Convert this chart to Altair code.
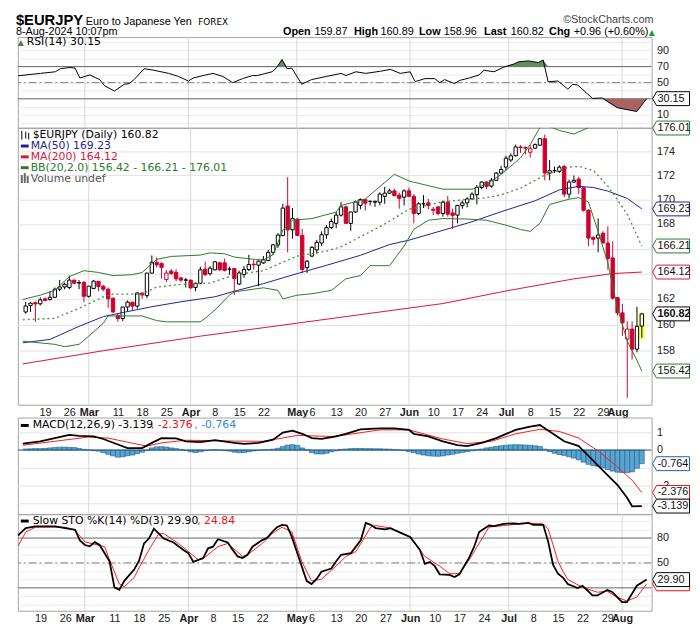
import altair as alt
import pandas as pd
import numpy as np

# ---------------- data ----------------
FIRST_DAY = "2024-02-13"
OPEN = [160.97, 161.48, 161.70, 161.61, 162.00, 161.95, 162.12, 162.76, 162.94, 162.90,
        163.48, 163.25, 163.30, 162.20, 162.82, 163.38, 163.00, 162.76, 162.05, 160.70,
        160.46, 161.36, 161.74, 161.43, 162.46, 162.25, 164.04, 164.90, 164.80, 163.53,
        164.20, 164.10, 163.66, 163.48, 163.48, 162.90, 163.23, 164.35, 163.99, 164.30,
        164.86, 164.86, 164.35, 164.40, 163.17, 163.92, 164.32, 164.75, 164.67, 164.85,
        165.04, 165.70, 166.30, 167.07, 169.47, 167.52, 168.40, 167.07, 164.48, 165.40,
        165.90, 166.45, 167.12, 167.70, 168.05, 168.72, 169.40, 168.05, 168.98, 169.52,
        170.00, 169.85, 169.78, 169.78, 170.27, 170.53, 170.72, 170.37, 170.20, 170.72,
        170.27, 168.85, 169.65, 169.73, 169.20, 169.40, 168.85, 169.78, 168.90, 168.72,
        169.50, 169.73, 170.05, 170.40, 171.00, 171.45, 171.12, 171.60, 172.20, 172.70,
        173.30, 173.65, 174.40, 174.35, 173.95, 174.30, 174.55, 175.10, 172.20, 172.40,
        172.35, 172.75, 170.45, 171.45, 171.70, 170.98, 169.12, 166.90, 166.85, 167.25,
        166.45, 165.25, 162.10, 160.90, 158.87, 159.64, 158.09, 159.87]
HIGH = [161.74, 161.74, 161.79, 162.12, 162.10, 162.60, 162.89, 163.50, 163.28, 163.84,
        163.50, 163.48, 163.40, 163.00, 163.48, 163.40, 163.10, 162.90, 162.10, 160.85,
        161.36, 161.87, 161.74, 162.50, 162.50, 164.04, 165.45, 165.30, 164.90, 164.30,
        164.35, 164.35, 163.66, 163.66, 163.50, 163.28, 164.55, 164.94, 164.60, 165.00,
        164.94, 165.20, 164.55, 164.45, 164.24, 164.60, 165.50, 165.10, 165.04, 165.40,
        165.90, 166.37, 167.25, 169.65, 171.86, 169.30, 168.45, 167.60, 165.07, 166.20,
        166.70, 167.40, 167.90, 168.45, 168.99, 169.80, 169.52, 169.00, 169.92, 170.10,
        170.05, 169.92, 169.90, 170.60, 171.05, 170.90, 170.90, 170.58, 170.85, 170.98,
        170.45, 169.78, 170.37, 170.05, 169.39, 169.45, 169.92, 170.30, 169.25, 169.57,
        169.92, 170.20, 170.60, 171.20, 171.53, 171.53, 171.80, 172.30, 172.80, 173.65,
        173.85, 174.60, 174.55, 174.45, 174.60, 174.70, 175.15, 175.45, 173.30, 172.75,
        172.85, 172.90, 171.65, 172.00, 171.90, 170.98, 169.20, 167.00, 168.45, 167.40,
        167.80, 166.60, 162.15, 161.60, 160.25, 160.25, 161.38, 160.89]
LOW = [160.84, 160.97, 160.20, 161.48, 161.80, 161.87, 162.05, 162.60, 162.76, 162.76,
       163.15, 162.76, 161.74, 162.10, 162.76, 162.60, 162.60, 161.30, 160.90, 160.20,
       160.26, 161.00, 161.10, 161.23, 162.00, 162.05, 164.00, 164.50, 163.60, 163.33,
       163.90, 163.40, 163.33, 162.90, 162.76, 162.60, 163.15, 163.84, 163.84, 164.25,
       164.20, 164.17, 163.90, 162.30, 163.10, 163.66, 164.20, 164.30, 162.99, 164.77,
       164.99, 165.50, 166.05, 166.99, 165.70, 166.80, 167.00, 164.05, 164.05, 165.30,
       165.60, 166.20, 166.80, 167.60, 167.65, 168.60, 168.05, 167.44, 168.90, 169.20,
       169.10, 169.52, 169.40, 169.52, 169.65, 170.45, 170.27, 169.25, 169.52, 170.20,
       168.05, 168.72, 169.30, 169.20, 168.72, 168.70, 168.60, 168.60, 167.60, 168.05,
       169.25, 169.35, 170.00, 169.60, 170.85, 170.85, 170.98, 171.53, 172.15, 172.45,
       173.12, 173.60, 173.90, 173.75, 173.50, 174.25, 174.50, 171.60, 171.60, 172.20,
       172.20, 170.20, 170.10, 171.40, 170.45, 169.00, 166.20, 166.30, 165.70, 166.45,
       164.30, 161.95, 160.70, 159.10, 154.40, 157.30, 157.85, 158.96]
CLOSE = [161.43, 161.66, 161.60, 161.92, 161.87, 162.12, 162.76, 162.94, 163.15, 163.48,
         163.23, 163.28, 162.20, 163.00, 163.40, 162.97, 162.76, 162.00, 160.97, 160.46,
         161.36, 161.74, 161.43, 162.46, 162.30, 164.04, 164.90, 164.70, 164.50, 164.04,
         164.00, 163.58, 163.48, 163.49, 162.87, 163.23, 164.30, 163.90, 164.43, 164.94,
         164.30, 164.25, 164.35, 163.60, 164.05, 164.32, 164.72, 164.70, 164.99, 165.12,
         165.70, 166.30, 167.10, 169.30, 167.52, 168.45, 167.07, 164.32, 164.99, 166.10,
         166.50, 167.12, 167.70, 168.20, 168.72, 169.40, 168.05, 168.98, 169.80, 170.00,
         169.70, 169.85, 169.86, 170.45, 170.53, 170.72, 170.32, 170.10, 170.72, 170.27,
         168.85, 169.65, 169.65, 169.52, 169.12, 168.85, 169.78, 168.80, 168.70, 169.52,
         169.73, 170.05, 170.45, 171.00, 171.45, 171.10, 171.60, 172.20, 172.50, 173.45,
         173.65, 174.40, 174.35, 174.30, 174.25, 174.60, 175.10, 172.20, 172.40, 172.40,
         172.70, 170.45, 171.45, 171.60, 170.98, 169.12, 166.85, 166.75, 167.10, 166.45,
         165.20, 162.05, 160.90, 160.12, 159.64, 158.09, 159.86, 160.82]

TICK_IDX = [4, 9, 13, 19, 24, 29, 34, 39, 44, 49, 56, 59, 64, 69, 74, 79, 84, 89, 94, 99,
            104, 109, 114, 119, 122]
TICK_LABELS = ["19", "26", "Mar", "11", "18", "25", "Apr", "8", "15", "22", "May", "6", "13",
               "20", "27", "Jun", "10", "17", "24", "Jul", "8", "15", "22", "29", "Aug"]
MONTH_IDX = [13, 34, 56, 79, 99, 122]

# (trading-day index, value) samples
MA50 = [(-0.6, 158.58), (5, 158.84), (11, 159.85), (16, 160.61), (21, 161.0), (26, 161.38),
        (32, 161.77), (39, 162.16), (43, 162.6), (49, 163.2), (56, 164.0), (62, 164.66),
        (69, 165.46), (75, 166.33), (79, 166.68), (86, 167.48), (92, 168.18), (98, 169.0),
        (105, 169.9), (110, 170.8), (114, 171.1), (117, 171.0), (120, 170.7), (124, 170.1),
        (127, 169.23)]
MA200 = [(-0.6, 156.96), (16, 157.97), (36, 159.09), (56, 160.10), (66, 160.61), (86, 161.63),
         (99, 162.62), (113, 163.58), (121, 164.0), (127, 164.12)]
BB_UP = [(-0.6, 161.95), (3, 162.29), (6, 162.67), (9, 163.76), (12, 164.23), (15, 164.09),
         (18, 163.84), (22, 163.91), (24, 164.09), (27, 165.13), (30, 165.37), (36, 165.48),
         (38, 165.66), (41, 165.58), (43, 165.32), (46, 165.18), (49, 165.08), (51, 165.52),
         (53, 167.5), (55, 168.3), (59, 168.44), (64, 168.97), (65, 169.51), (70, 170.05),
         (76, 172.1), (79, 171.54), (86, 170.86), (92, 170.86), (95, 171.27), (98, 172.09),
         (102, 173.48), (104, 174.6), (106, 176.05), (107, 176.3), (110, 175.8), (113, 175.5),
         (116, 176.05), (118, 177.0), (121, 177.6), (124, 177.3), (127, 176.01)]
BB_MID = [(-0.6, 160.36), (6, 160.48), (11, 161.25), (16, 162.16), (18, 162.37), (24, 162.37),
          (27, 162.93), (32, 163.14), (38, 163.24), (43, 163.9), (49, 164.23), (52, 164.74),
          (56, 165.4), (62, 165.8), (65, 166.15), (70, 167.16), (74, 167.99), (79, 169.2),
          (86, 169.82), (95, 170.16), (98, 170.39), (102, 170.94), (107, 172.03), (112, 172.7),
          (114, 172.76), (117, 172.43), (120, 171.12), (124, 168.8), (127, 166.21)]
BB_LOW = [(-0.6, 158.71), (6, 158.46), (8, 158.28), (11, 158.46), (13, 159.09), (16, 160.1),
          (17, 160.66), (24, 160.66), (27, 160.3), (29, 160.2), (36, 160.2), (37, 160.48),
          (39, 161.12), (42, 162.29), (43, 162.55), (49, 162.87), (52, 162.67), (53, 162.0),
          (56, 162.29), (59, 162.4), (63, 162.67), (66, 163.58), (69, 163.84), (71, 164.63),
          (75, 164.63), (78, 166.21), (80, 167.55), (83, 168.3), (86, 168.44), (91, 168.4),
          (95, 168.3), (99, 167.9), (102, 167.55), (104, 167.4), (106, 168.05), (108, 169.6),
          (112, 170.03), (114, 170.16), (116, 169.8), (118, 167.37), (120, 164.86),
          (122, 161.25), (124, 158.71), (126, 157.23), (127, 156.42)]
RSI = [(-0.6, 58.5), (4, 61.5), (7, 63.5), (8, 67.3), (10, 68.8), (11, 68.0), (12, 55.8),
       (14, 59.6), (16, 53.8), (17, 46.2), (19, 39.6), (21, 48.0), (22, 48.8), (23, 53.8),
       (25, 67.3), (27, 65.4), (30, 61.5), (32, 57.7), (34, 52.0), (35, 55.8), (37, 58.8),
       (39, 61.5), (41, 57.7), (43, 50.0), (45, 55.0), (47, 58.8), (48, 58.8), (51, 63.5),
       (52, 69.2), (53, 78.8), (54, 67.3), (55, 68.0), (57, 48.0), (59, 53.8), (62, 57.7),
       (65, 61.5), (66, 58.8), (68, 63.5), (70, 61.5), (73, 64.2), (75, 66.5), (77, 61.5),
       (79, 63.5), (80, 51.2), (82, 55.0), (84, 55.0), (85, 50.0), (86, 53.8), (88, 48.8),
       (89, 52.7), (91, 55.8), (93, 59.6), (94, 65.4), (96, 63.5), (98, 69.2), (100, 73.0),
       (101, 75.8), (103, 77.0), (105, 75.0), (106, 78.0), (107, 51.2), (109, 52.0),
       (111, 42.0), (112, 48.0), (113, 47.0), (116, 30.5), (118, 31.0), (121, 19.0),
       (123, 16.5), (125, 14.2), (127, 30.15)]
MACD = [(-0.6, 0.36), (3, 0.49), (6, 0.67), (9, 0.85), (11, 0.80), (14, 0.76), (16, 0.62),
        (19, 0.31), (21, 0.11), (24, 0.11), (26, 0.40), (28, 0.67), (31, 0.65), (33, 0.49),
        (36, 0.45), (39, 0.55), (43, 0.40), (45, 0.35), (48, 0.40), (51, 0.58), (53, 0.98),
        (55, 1.09), (57, 0.91), (59, 0.67), (61, 0.62), (64, 0.76), (66, 0.91), (69, 1.16),
        (73, 1.22), (76, 1.22), (79, 1.13), (80, 0.91), (83, 0.76), (86, 0.49), (89, 0.27),
        (91, 0.22), (94, 0.40), (97, 0.67), (101, 1.13), (104, 1.31), (106, 1.40), (108, 1.04),
        (111, 0.49), (114, 0.22), (116, -0.33), (118, -0.87), (119, -1.15), (122, -1.96),
        (124, -2.69), (125, -3.15), (127, -3.139)]
SIGNAL = [(-0.6, 0.27), (6, 0.49), (13, 0.73), (17, 0.67), (21, 0.44), (25, 0.22), (28, 0.40),
          (33, 0.55), (43, 0.50), (49, 0.49), (56, 0.82), (63, 0.76), (66, 0.85), (73, 1.13),
          (79, 1.13), (86, 0.62), (91, 0.36), (96, 0.49), (101, 0.91), (106, 1.16), (110, 1.04),
          (114, 0.67), (118, -0.05), (122, -0.96), (125, -1.69), (127, -2.376)]
HIST = [0.06, 0.07, 0.08, 0.08, 0.09, 0.12, 0.14, 0.16, 0.16, 0.15,
        0.14, 0.09, 0.04, 0.00, -0.03, -0.06, -0.15, -0.24, -0.33, -0.40,
        -0.38, -0.32, -0.28, -0.20, -0.12, -0.02, 0.12, 0.18, 0.19, 0.17,
        0.12, 0.08, 0.04, -0.02, -0.10, -0.14, -0.10, -0.04, 0.00, 0.02,
        0.00, -0.03, -0.06, -0.12, -0.15, -0.14, -0.10, -0.05, -0.02, 0.01,
        0.02, 0.05, 0.10, 0.20, 0.28, 0.30, 0.26, 0.12, 0.02, -0.15,
        -0.22, -0.22, -0.18, -0.10, -0.04, 0.04, 0.06, 0.08, 0.09, 0.09,
        0.08, 0.08, 0.07, 0.07, 0.06, 0.05, 0.02, 0.00, -0.03, -0.08,
        -0.15, -0.22, -0.28, -0.32, -0.34, -0.35, -0.33, -0.28, -0.24, -0.18,
        -0.13, -0.09, -0.04, 0.02, 0.06, 0.12, 0.16, 0.20, 0.24, 0.27,
        0.29, 0.30, 0.29, 0.28, 0.27, 0.24, 0.20, 0.05, -0.08, -0.18,
        -0.25, -0.30, -0.38, -0.45, -0.55, -0.68, -0.80, -0.88, -0.92, -1.00,
        -1.10, -1.18, -1.24, -1.26, -1.27, -1.22, -1.02, -0.764]
STO_K = [(-0.6, 83), (1, 92), (3, 94), (7, 94), (9, 92), (11, 90), (12, 77), (13, 71.6),
         (14, 70), (15, 75), (16, 71.6), (18, 52), (19, 20.6), (20, 17.5), (21, 28.4), (23, 42),
         (24, 52.7), (25, 73.5), (26, 79.4), (27, 91.2), (28, 85.3), (29, 79.4), (31, 74.7),
         (33, 65.7), (34, 61.8), (35, 51.2), (37, 55.9), (38, 67.6), (39, 69.6), (40, 78.6),
         (42, 74.7), (43, 65.7), (44, 57.8), (45, 55.9), (46, 59.8), (47, 69.6), (49, 77.5),
         (50, 80.2), (51, 87.3), (52, 93.1), (53, 95.9), (54, 95.1), (55, 81.4), (56, 63.7),
         (58, 28.4), (59, 24.5), (60, 30.4), (61, 39.4), (63, 43.3), (64, 52), (65, 59.8),
         (67, 61.8), (69, 77.5), (70, 98.2), (71, 95.9), (72, 92), (74, 90.4), (75, 92),
         (77, 86.5), (79, 81.4), (81, 65.7), (82, 48.8), (83, 51.2), (84, 46.1), (85, 36.3),
         (87, 35.5), (88, 33.1), (89, 36.3), (91, 56.7), (92, 69.6), (93, 87.3), (95, 95.1),
         (96, 94.3), (98, 97.1), (100, 97.8), (101, 97.1), (103, 98.2), (104, 95.9), (106, 95.9),
         (107, 76), (108, 48), (109, 37), (110, 32.4), (111, 24.5), (113, 19.8), (114, 22.5),
         (116, 10.8), (117, 10.8), (119, 17.5), (120, 15), (122, 2.9), (123, 2.9), (124, 12.7),
         (125, 22.5), (127, 29.9)]
STO_D = [(-0.6, 69.6), (1, 87.3), (3, 93.1), (9, 93.1), (11, 89.2), (13, 75.5), (15, 72.4),
         (17, 69.6), (18, 53.9), (20, 24.5), (21, 21.4), (23, 32.4), (24, 44), (26, 65.7),
         (28, 85.3), (29, 85.3), (32, 73.5), (36, 53.9), (37, 55.1), (40, 69.6), (42, 73.5),
         (45, 57.8), (46, 59.8), (49, 73.5), (51, 85.3), (53, 93.1), (55, 87.3), (57, 52),
         (59, 28.4), (61, 30.4), (63, 41), (66, 57.8), (68, 63.7), (71, 93.1), (72, 95.1),
         (75, 92), (77, 86.5), (79, 81.4), (82, 57.8), (85, 46.1), (87, 37.1), (89, 37.1),
         (91, 53.9), (94, 83.3), (95, 93.1), (98, 95.1), (103, 97.8), (106, 97.1), (107, 91),
         (108, 72), (109, 52), (110, 40), (111, 30), (114, 20.6), (117, 14.7), (119, 15.9),
         (121, 8.8), (123, 4.1), (125, 8.8), (127, 24.84)]

# ---------------- styling ----------------
W = 643
H_RSI, H_MAIN, H_SP, H_MACD, H_STO = 92, 281, 13, 98, 98
RED = "#d0002e"
CRIMSON = "#d8143c"
NAVY = "#1f1f8f"
GREEN = "#2b7a2b"
GRID = "#e2e2e2"
MGRID = "#d6d6d6"
LEG_FONT = "DejaVu Sans"
LEG_SIZE = 11
AX_FONT = "Liberation Sans"
TAG = "M0,0L0.27,-0.47L2.5,-0.47L2.5,0.47L0.27,0.47Z"

XS = alt.Scale(domain=[-0.6, 128], nice=False, zero=False)
XAX = alt.Axis(values=TICK_IDX,
               labelExpr=f"{TICK_LABELS}[indexof({TICK_IDX}, datum.value)]",
               labelFontWeight={"condition": {"test": f"indexof({MONTH_IDX}, datum.value) >= 0",
                                              "value": "bold"}, "value": "normal"},
               grid=False, ticks=False, domain=False, labelPadding=2, title=None,
               labelOverlap=False, labelFontSize=11, labelFont=AX_FONT, labelColor="#222")
X_AX = alt.X("i:Q", scale=XS, axis=XAX)
X_NO = alt.X("i:Q", scale=XS, axis=None)


def pts(lst):
    return pd.DataFrame(lst, columns=["i", "v"])


ONE = pd.DataFrame({"k": [0]})


def label(s, x, y, color="#000", size=LEG_SIZE, weight="normal", font=LEG_FONT, align="left",
          baseline="middle"):
    return alt.Chart(ONE).mark_text(text=s, align=align, baseline=baseline, font=font,
                                    fontSize=size, fontWeight=weight, color=color).encode(
        x=alt.value(x), y=alt.value(y))


def icon(x1, x2, y, color, width=3):
    return alt.Chart(ONE).mark_rule(color=color, strokeWidth=width).encode(
        x=alt.value(x1), x2=alt.value(x2), y=alt.value(y))


def vbar(x, y1, y2, color, width=2):
    return alt.Chart(ONE).mark_rule(color=color, strokeWidth=width).encode(
        x=alt.value(x), y=alt.value(y1), y2=alt.value(y2))


def tag(value, color, yenc, bold=False):
    df = pd.DataFrame({"v": [value], "lab": [f"{value:.2f}" if abs(value) >= 10 else f"{value:.3f}"]})
    base = alt.Chart(df).encode(y=yenc)
    box = base.mark_point(shape=TAG, size=900, filled=True, fill="white", stroke=color,
                          strokeWidth=1, opacity=1).encode(x=alt.value(W + 1))
    t = base.mark_text(align="left", baseline="middle", font=AX_FONT, fontSize=11,
                       fontWeight="bold" if bold else "normal", color="#111").encode(
        x=alt.value(W + 6), text="lab:N")
    return alt.layer(box, t)


def month_rules(xenc):
    return alt.Chart(pd.DataFrame({"i": MONTH_IDX})).mark_rule(color=MGRID).encode(x=xenc)


HS = 11  # header font size
def hdr(s, x, y, weight="normal", size=HS, color="#000", align="left"):
    return label(s, x, y, color=color, size=size, weight=weight, font=AX_FONT, align=align,
                 baseline="alphabetic")


# ---------------- RSI panel ----------------
YR = alt.Scale(domain=[-6, 106.5], nice=False, zero=False)
YAX_R = alt.Axis(orient="right", values=list(range(0, 101, 10)),
                 labelExpr="(datum.value % 20 == 10 && datum.value != 30) ? datum.label : ''",
                 grid=True, gridColor="#ececec", title=None, labelPadding=5)
YRv = alt.Y("v:Q", scale=YR, axis=YAX_R)
rsi_df = pts(RSI)
rsi_df["hi"] = rsi_df["v"].clip(lower=70)
rsi_df["lo"] = rsi_df["v"].clip(upper=30)
rsi_df["c70"] = 70
rsi_df["c30"] = 30

last_o, last_h, last_l, last_c = OPEN[-1], HIGH[-1], LOW[-1], CLOSE[-1]
chg = last_c - CLOSE[-2]
pct = chg / CLOSE[-2] * 100

rsi = alt.layer(
    month_rules(X_NO),
    alt.Chart(pd.DataFrame({"v": [70, 30]})).mark_rule(color="#6e6e6e").encode(y=YRv),
    alt.Chart(pd.DataFrame({"v": [50]})).mark_rule(color="#7a7a7a", strokeDash=[8, 3, 2, 3]).encode(y=YRv),
    alt.Chart(rsi_df).mark_area(color="#5d8f5d", opacity=1).encode(
        x=X_NO, y=alt.Y("hi:Q", scale=YR, axis=YAX_R), y2="c70:Q"),
    alt.Chart(rsi_df).mark_area(color="#a86464", opacity=1).encode(
        x=X_NO, y=alt.Y("lo:Q", scale=YR, axis=YAX_R), y2="c30:Q"),
    alt.Chart(rsi_df).mark_line(color="#000", strokeWidth=1, clip=True).encode(x=X_NO, y=YRv),
    label("▲", 0, 5.5, color="#4f7f4f", size=8),
    label(f"RSI(14) {RSI[-1][1]:.2f}", 9, 5.5),
    # header
    hdr("$EURJPY", -2, -12, weight="bold", size=15),
    hdr("Euro to Japanese Yen", 69, -12),
    label("FOREX", 183, -12, size=9, baseline="alphabetic"),
    hdr("©StockCharts.com", 645, -14, color="#444", align="right"),
    hdr("8-Aug-2024 10:07pm", -2, -2),
    hdr("Open", 269, -2, weight="bold"),
    hdr(f"{last_o:.2f}", 301, -2),
    hdr("High", 341, -2, weight="bold"),
    hdr(f"{last_h:.2f}", 368, -2),
    hdr("Low", 407, -2, weight="bold"),
    hdr(f"{last_l:.2f}", 432, -2),
    hdr("Last", 473, -2, weight="bold"),
    hdr(f"{last_c:.2f}", 500, -2),
    hdr("Chg", 539, -2, weight="bold"),
    hdr(f"{chg:+.2f} ({pct:+.2f}%)", 564, -2),
    label("▲", 640, -2, size=8, color="#1e9e1e", baseline="alphabetic"),
    tag(RSI[-1][1], "#000", YRv),
).properties(width=W, height=H_RSI)

# ---------------- price panel ----------------
YM = alt.Scale(type="log", domain=[153.88, 176.03], nice=False)
YAX_M = alt.Axis(orient="right", values=list(range(156, 176, 2)), grid=True, gridColor=GRID,
                 labelExpr="indexof([156, 164, 166], datum.value) >= 0 ? '' : datum.label",
                 title=None, labelPadding=5)


def ym(f):
    return alt.Y(f, type="quantitative", scale=YM, axis=YAX_M)


n = len(CLOSE)
cdf = pd.DataFrame({"i": range(n), "O": OPEN, "H": HIGH, "L": LOW, "C": CLOSE})
prev = cdf["C"].shift(1).fillna(cdf["O"])
cdf["blo"] = cdf[["O", "C"]].min(axis=1)
cdf["bhi"] = cdf[["O", "C"]].max(axis=1)
cdf["stk"] = np.where(cdf["C"] < prev, RED, "#000000")
cdf["fil"] = np.where(cdf["C"] > cdf["O"], "#ffffff", cdf["stk"])
hdf = pd.DataFrame({"i0": [n - 1 - 0.65], "i1": [n - 1 + 0.65],
                    "lo": [LOW[-1] - 0.1], "hi": [HIGH[-1] + 0.05]})


def line(lst, color, width=1, dash=None):
    kw = dict(color=color, strokeWidth=width, clip=True)
    if dash:
        kw["strokeDash"] = dash
    return alt.Chart(pts(lst)).mark_line(**kw).encode(x=X_AX, y=ym("v"))


main = alt.layer(
    month_rules(X_AX),
    alt.Chart(hdf).mark_rect(color="#ffff5e").encode(
        x=alt.X("i0:Q", scale=XS, axis=XAX), x2="i1:Q", y=ym("lo"), y2="hi:Q"),
    alt.Chart(cdf).mark_rule(strokeWidth=1).encode(
        x=X_AX, y=ym("L"), y2="H:Q", color=alt.Color("stk:N", scale=None)),
    alt.Chart(cdf).mark_bar(size=3.4, strokeWidth=1).encode(
        x=X_AX, y=ym("blo"), y2="bhi:Q", fill=alt.Fill("fil:N", scale=None),
        stroke=alt.Stroke("stk:N", scale=None)),
    line(MA200, CRIMSON),
    line(MA50, NAVY),
    line(BB_UP, GREEN),
    line(BB_LOW, GREEN),
    line(BB_MID, "#3f8f3f", 1.3, [2, 3]),
    label(f"$EURJPY (Daily) {CLOSE[-1]:.2f}", 15, 7.5),
    vbar(4, 3, 12, "#000", 1), vbar(8, 4, 11, "#000", 1), vbar(11, 5, 12, "#000", 1),
    icon(3, 11, 18.5, NAVY), label(f"MA(50) {MA50[-1][1]:.2f}", 13, 18.5, color=NAVY),
    icon(3, 11, 29.5, CRIMSON), label(f"MA(200) {MA200[-1][1]:.2f}", 13, 29.5, color=CRIMSON),
    icon(3, 11, 40.5, GREEN),
    label(f"BB(20,2.0) {BB_LOW[-1][1]:.2f} - {BB_MID[-1][1]:.2f} - {BB_UP[-1][1]:.2f}", 13, 40.5,
          color=GREEN),
    vbar(4, 48, 56, "#666"), vbar(7, 46, 56, "#666"), vbar(10, 49, 56, "#666"),
    label("Volume undef", 13, 51.5, color="#555"),
    tag(BB_UP[-1][1], GREEN, ym("v")),
    tag(MA50[-1][1], NAVY, ym("v")),
    tag(BB_MID[-1][1], GREEN, ym("v")),
    tag(MA200[-1][1], CRIMSON, ym("v")),
    tag(BB_LOW[-1][1], GREEN, ym("v")),
    tag(CLOSE[-1], "#000", ym("v"), bold=True),
).properties(width=W, height=H_MAIN)

spacer = alt.Chart(ONE).mark_point(opacity=0).encode(
    x=alt.X("k:Q", axis=None), y=alt.Y("k:Q", axis=None)
).properties(width=W, height=H_SP, view=alt.ViewBackground(stroke="transparent"))

# ---------------- MACD panel ----------------
YMA = alt.Scale(domain=[-3.59, 1.82], nice=False, zero=False)
YAX_MA = alt.Axis(orient="right", values=[-3, -2, -1, 0, 1], grid=True, gridColor=GRID,
                  labelExpr="(datum.value == -1 || datum.value == -3) ? '' : datum.label",
                  title=None, labelPadding=5)
YMAv = alt.Y("v:Q", scale=YMA, axis=YAX_MA)
hdf2 = pd.DataFrame({"i": range(len(HIST)), "v": HIST, "z": 0.0})

macd = alt.layer(
    month_rules(X_NO),
    alt.Chart(hdf2).mark_bar(size=5, fill="#5aa4cf", stroke="#1d5d8c", strokeWidth=0.6).encode(
        x=X_NO, y=YMAv, y2="z:Q"),
    alt.Chart(pd.DataFrame({"v": [0]})).mark_rule(color="#1d5d8c").encode(y=YMAv),
    alt.Chart(pts(SIGNAL)).mark_line(color="#ff1a1a", strokeWidth=1, clip=True).encode(x=X_NO, y=YMAv),
    alt.Chart(pts(MACD)).mark_line(color="#000", strokeWidth=1.8, clip=True).encode(x=X_NO, y=YMAv),
    icon(3, 11, 8, "#000"),
    label(f"MACD(12,26,9) {MACD[-1][1]:.3f}", 15, 8),
    label(f", {SIGNAL[-1][1]:.3f}", 135, 8, color="#ee1111"),
    label(f", {HIST[-1]:.3f}", 179, 8, color="#2a8ccf"),
    tag(HIST[-1], "#1f5fa0", YMAv),
    tag(SIGNAL[-1][1], "#ee1111", YMAv),
    tag(MACD[-1][1], "#000", YMAv),
).properties(width=W, height=H_MACD)

# ---------------- Slow STO panel ----------------
YS = alt.Scale(domain=[-7.6, 108.8], nice=False, zero=False)
YAX_S = alt.Axis(orient="right", values=list(range(0, 101, 10)),
                 labelExpr="(datum.value == 50 || datum.value == 80) ? datum.label : ''",
                 grid=True, gridColor="#ececec", title=None, labelPadding=5)
YSv = alt.Y("v:Q", scale=YS, axis=YAX_S)

sto = alt.layer(
    month_rules(X_AX),
    alt.Chart(pd.DataFrame({"v": [80, 20]})).mark_rule(color="#6e6e6e").encode(y=YSv),
    alt.Chart(pd.DataFrame({"v": [50]})).mark_rule(color="#7a7a7a", strokeDash=[8, 3, 2, 3]).encode(y=YSv),
    alt.Chart(pts(STO_D)).mark_line(color="#ff1a1a", strokeWidth=1, clip=True).encode(x=X_AX, y=YSv),
    alt.Chart(pts(STO_K)).mark_line(color="#000", strokeWidth=1.8, clip=True).encode(x=X_AX, y=YSv),
    icon(3, 11, 7, "#000"),
    label(f"Slow STO %K(14) %D(3) {STO_K[-1][1]:.2f}", 15, 7),
    label(f", {STO_D[-1][1]:.2f}", 182, 7, color="#ee1111"),
    tag(STO_D[-1][1], "#ee1111", YSv),
    tag(STO_K[-1][1], "#000", YSv),
).properties(width=W, height=H_STO)

chart = alt.vconcat(rsi, main, spacer, macd, sto, spacing=0, bounds="flush").properties(
    padding={"left": 7, "top": 0, "right": 0, "bottom": 0}, background="white"
).configure_view(stroke="#a3a3a3", strokeWidth=1).configure_axis(
    labelFont=AX_FONT, labelFontSize=11, labelColor="#222", domain=False, ticks=False)

chart.save("out.html", embed_options={"renderer": "svg", "actions": False})
